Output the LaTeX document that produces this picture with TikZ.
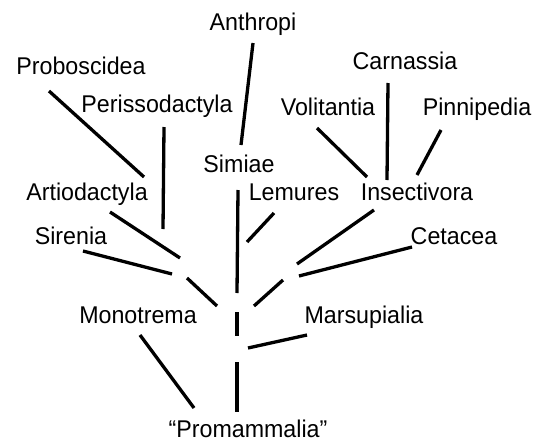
\documentclass[tikz,border=0pt]{standalone}
\usepackage{fontspec}
\setmainfont{Liberation Sans}[FakeStretch=0.96]
\usetikzlibrary{positioning}
\definecolor{treeInk}{HTML}{000000}
\definecolor{treePaper}{HTML}{FFFFFF}
\begin{document}
\begin{tikzpicture}[x=1pt,y=-1pt,line join=round]
\path[fill=treePaper] (0,0) rectangle (538,442);
\tikzset{taxon/.style={anchor=base,inner sep=0pt,text=treeInk,font=\fontsize{24.2}{28}\selectfont},branch/.style={draw=treeInk,line width=3.3pt}}
\node[taxon] (anthropi) at (253,30.5) {Anthropi};
\node[taxon] (proboscidea) at (81,74) {Proboscidea}; \node[taxon] (carnassia) at (405,69) {Carnassia};
\node[taxon] (perisso) at (157,112.5) {Perissodactyla}; \node[taxon] (volitantia) at (328,115) {Volitantia}; \node[taxon] (pinnipedia) at (477,115) {Pinnipedia};
\node[taxon] (simiae) at (239,172.5) {Simiae};
\node[taxon] (artio) at (87,200.5) {Artiodactyla}; \node[taxon] (lemures) at (294,200.5) {Lemures}; \node[taxon] (insectivora) at (417,200.5) {Insectivora};
\node[taxon] (sirenia) at (71,244) {Sirenia}; \node[taxon] (cetacea) at (454,244) {Cetacea};
\node[taxon] (monotrema) at (138,323) {Monotrema}; \node[taxon] (marsupialia) at (364,323) {Marsupialia};
\node[taxon] (promammalia) at (248,437.5) {“Promammalia”};
% branch end points
\coordinate (anthA) at (253,43); \coordinate (anthB) at (241,145);
\coordinate (probA) at (49,91); \coordinate (probB) at (144,177);
\coordinate (perA) at (164,127); \coordinate (perB) at (163,229);
\coordinate (artA) at (110,212); \coordinate (artB) at (180,258);
\coordinate (sirA) at (83,251); \coordinate (sirB) at (172,274);
\coordinate (lowA) at (187,278); \coordinate (lowB) at (217,306);
\coordinate (trunkA) at (238,190); \coordinate (trunkB) at (237,293);
\coordinate (trunkC) at (237,312); \coordinate (trunkD) at (237,336);
\coordinate (trunkE) at (237,362); \coordinate (trunkF) at (237,412);
\coordinate (monA) at (140,335); \coordinate (monB) at (194,408);
\coordinate (marA) at (248,348); \coordinate (marB) at (307,335);
\coordinate (rlowA) at (254,306); \coordinate (rlowB) at (283,280);
\coordinate (cetA) at (299,276); \coordinate (cetB) at (412,247);
\coordinate (insA) at (297,264); \coordinate (insB) at (374,210);
\coordinate (lemA) at (247,242); \coordinate (lemB) at (274,213);
\coordinate (volA) at (317,128); \coordinate (volB) at (367,177);
\coordinate (carA) at (388,83); \coordinate (carB) at (387,180);
\coordinate (pinA) at (441,130); \coordinate (pinB) at (417,175);
\draw[branch] (anthA) -- (anthB); \draw[branch] (probA) -- (probB); \draw[branch] (perA) -- (perB);
\draw[branch] (artA) -- (artB); \draw[branch] (sirA) -- (sirB); \draw[branch] (lowA) -- (lowB);
\draw[branch] (trunkA) -- (trunkB); \draw[branch] (trunkC) -- (trunkD); \draw[branch] (trunkE) -- (trunkF);
\draw[branch] (monA) -- (monB); \draw[branch] (marA) -- (marB); \draw[branch] (rlowA) -- (rlowB);
\draw[branch] (cetA) -- (cetB); \draw[branch] (insA) -- (insB); \draw[branch] (lemA) -- (lemB);
\draw[branch] (volA) -- (volB); \draw[branch] (carA) -- (carB); \draw[branch] (pinA) -- (pinB);
\end{tikzpicture}
\end{document}
